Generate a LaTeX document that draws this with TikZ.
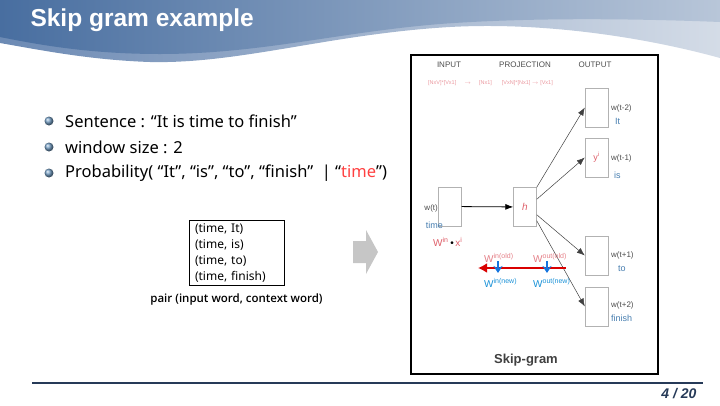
\documentclass[tikz,border=0pt]{standalone}
\usepackage{fontspec}
\setmainfont{Noto Sans}
\newfontfamily\arialfont{Liberation Sans}
\newfontfamily\pairfont{Open Sans Semibold}
\usetikzlibrary{calc, positioning, arrows.meta}
\tikzset{>=latex}
\definecolor{bandblue}{RGB}{72,110,160}
\definecolor{bandmid}{RGB}{108,138,180}
\definecolor{bandlight}{RGB}{212,220,231}
\definecolor{wordblue}{RGB}{70,125,175}
\definecolor{oldred}{RGB}{222,95,105}
\definecolor{newblue}{RGB}{25,145,215}
\definecolor{navy}{RGB}{38,58,88}

\begin{document}
\begin{tikzpicture}[x=1pt,y=-1pt,
  wbox/.style={draw=gray!60, minimum width=23pt, minimum height=39pt, inner sep=0pt},
  lbl/.style={font=\arialfont\fontsize{8}{9}\selectfont, text=black!70, anchor=west, inner sep=0pt},
  word/.style={font=\arialfont\fontsize{9}{10}\selectfont, text=wordblue, anchor=west, inner sep=0pt},
  wlbl/.style={font=\arialfont\fontsize{10}{11}\selectfont, anchor=west, inner sep=0pt},
  flow/.style={->, black!75, line width=0.5pt, >={Latex[length=8pt,width=6pt]}},
  item/.style={anchor=west, inner sep=0pt, font=\fontsize{16.5}{19}\selectfont}]
  \useasboundingbox (0,0) rectangle (720,405);

  % HEADER
  \shade[left color=bandmid, right color=bandlight]
    (0,0) -- (720,0) -- (720,58) .. controls (640,36) and (540,22) .. (450,27)
    .. controls (330,34) and (240,64) .. (150,62) .. controls (90,60) and (40,50) .. (0,43) -- cycle;
  \shade[left color=bandblue, right color=bandlight!80!bandblue]
    (0,0) -- (720,0) -- (720,22) .. controls (620,18) and (520,18) .. (440,24)
    .. controls (340,32) and (260,54) .. (160,54) .. controls (90,54) and (40,45) .. (0,37) -- cycle;
  \node[anchor=west, text=white, font=\arialfont\bfseries\fontsize{24.5}{27}\selectfont] (title) at (27,20) {Skip gram example};

  % BULLETS
  \foreach \y in {121,147,173}
    \shade[ball color=wordblue!75] (49,\y) circle (4.5);
  \node[item] (s1) at (65,121) {Sentence : “It is time to finish”};
  \node[item] (s2) at (65,147) {window size : 2};
  \node[item] (s3) at (65,173) {Probability( “It”, “is”, “to”, “finish”~~| “\textcolor{red!75}{time}”)};

  % PAIRS
  \node[draw, align=left, text width=83pt, inner xsep=6pt, inner ysep=3pt,
        font=\fontsize{12}{16}\selectfont] (pairs) at (236.5,253)
    {(time, It)\\(time, is)\\(time, to)\\(time, finish)};
  \node[font=\pairfont\fontsize{11.5}{13}\selectfont, below=5pt of pairs] (pairlbl) {pair (input word, context word)};

  \fill[gray!45] (353,241) -- (366,241) -- (366,230) -- (378,252) -- (366,274) -- (366,263) -- (353,263) -- cycle;

  % SKIP-GRAM FIGURE
  \node[draw, line width=1.2pt, minimum width=247pt, minimum height=319pt, inner sep=0pt] (frame) at (534.5,214.5) {};
  \node[font=\arialfont\fontsize{8}{9}\selectfont, text=black!70] (hin) at (449,65) {INPUT};
  \node[font=\arialfont\fontsize{8}{9}\selectfont, text=black!70] (hproj) at (525,65) {PROJECTION};
  \node[font=\arialfont\fontsize{8}{9}\selectfont, text=black!70] (hout) at (595,65) {OUTPUT};
  \node[font=\arialfont\fontsize{5.5}{6}\selectfont, text=oldred!65, anchor=west, inner sep=0pt] (dims) at (428,83)
    {[NxV]*[Vx1]\hspace{8pt}$\rightarrow$\hspace{8pt}[Nx1]\hspace{10pt}[VxN]*[Nx1] $\rightarrow$ [Vx1]};

  \node[wbox] (in) at (450,206.5) {};
  \node[wbox] (h) at (525,207) {\arialfont\itshape\fontsize{10}{10}\selectfont\textcolor{oldred}{h}};
  \node[wbox] (o1) at (596.5,107.5) {};
  \node[wbox] (o2) at (596.5,157.5) {\arialfont\fontsize{9}{9}\selectfont\textcolor{oldred}{y\textsuperscript{i}}};
  \node[wbox] (o3) at (596.5,255.5) {};
  \node[wbox] (o4) at (596.5,306.5) {};

  \node[lbl, anchor=east] (lin) at (438,208) {w(t)};
  \node[word, anchor=east] (win) at (443,225) {time};
  \node[lbl] (l1) at (611,108) {w(t-2)};
  \node[word] (w1) at (615,121) {It};
  \node[lbl] (l2) at (611,158) {w(t-1)};
  \node[word] (w2) at (614,175) {is};
  \node[lbl] (l3) at (611,255) {w(t+1)};
  \node[word] (w3) at (618,269) {to};
  \node[lbl] (l4) at (611,305) {w(t+2)};
  \node[word] (w4) at (611,318) {finish};

  \node[wlbl, text=oldred] (wx) at (433,242)
    {W\textsuperscript{in}\,\textcolor{black}{•}\,x\textsuperscript{i}};

  \draw[flow, line width=0.8pt, black] (in) -- (h);
  \draw[flow] (h.north east) -- (o1.west);
  \draw[flow] ([yshift=-12pt]h.north east) -- (o2.west);
  \draw[flow] ([yshift=12pt]h.south east) -- (o3.west);
  \draw[flow] ([yshift=6pt]h.south east) -- (o4.west);

  % UPDATE
  \coordinate (redtip) at (478,268);
  \coordinate (redend) at (566,268);
  \draw[{Latex[length=9pt,width=10pt]}-, red!85!black, line width=2.6pt] (redtip) -- (redend);
  \foreach \x in {498,547}
    \draw[-{Stealth[length=7pt,width=9pt]}, newblue!80!blue, line width=2pt] (\x,261) -- (\x,273);
  \node[wlbl, text=oldred!80] (wio) at (484,258) {W\textsuperscript{in(old)}};
  \node[wlbl, text=oldred!80] (woo) at (533,258) {W\textsuperscript{out(old)}};
  \node[wlbl, text=newblue] (win2) at (484,283) {W\textsuperscript{in(new)}};
  \node[wlbl, text=newblue] (won) at (533,283) {W\textsuperscript{out(new)}};

  \node[font=\arialfont\bfseries\fontsize{13}{15}\selectfont, text=black!75] (skip) at (526,360) {Skip-gram};

  % FOOTER
  \draw[navy, line width=1.8pt] (32,383) -- (703,383);
  \node[font=\arialfont\bfseries\itshape\fontsize{14}{16}\selectfont, text=navy, anchor=east] (pg) at (700,394) {4 / 20};
\end{tikzpicture}
\end{document}
